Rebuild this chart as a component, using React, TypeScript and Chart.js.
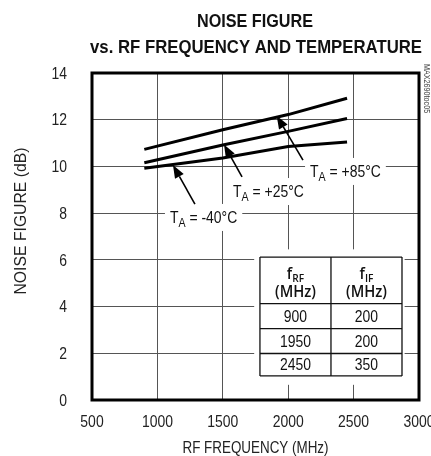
import React, { useEffect, useRef } from "react";
import { Chart, registerables } from "chart.js";

Chart.register(...registerables);

// ---- data ----
const frequencies = [900, 1500, 2000, 2450];
const nfPlus85 = [10.73, 11.57, 12.22, 12.92];
const nfPlus25 = [10.16, 10.92, 11.5, 12.05];
const nfMinus40 = [9.92, 10.36, 10.85, 11.05];

const xMin = 500;
const xMax = 3000;
const xStep = 500;
const yMin = 0;
const yMax = 14;
const yStep = 2;

const titleLines = ["NOISE FIGURE", "vs. RF FREQUENCY AND TEMPERATURE"];
const xTitle = "RF FREQUENCY (MHz)";
const yTitle = "NOISE FIGURE (dB)";
const watermark = "MAX2690toc05";

const tableHeadMain = ["f", "f"];
const tableHeadSub = ["RF", "IF"];
const tableHeadUnit = ["(MHz)", "(MHz)"];
const tableRF = ["900", "1950", "2450"];
const tableIF = ["200", "200", "350"];

const tempLabels = ["+85°C", "+25°C", "-40°C"];

// annotation anchors (data coordinates)
const labelAnchors = [
  { x: 2167, y: 9.55 },
  { x: 1578, y: 8.69 },
  { x: 1096, y: 7.58 },
];
const arrowTails = [
  { x: 2113, y: 10.27 },
  { x: 1647, y: 9.55 },
  { x: 1287, y: 8.39 },
];
const arrowHeads = [
  { x: 1912, y: 12.17 },
  { x: 1509, y: 10.94 },
  { x: 1119, y: 10.06 },
];
const tableCols = [1784, 2327, 2870];
const tableRows = [6.12, 4.13, 3.06, 1.99, 1.03];
const tableBg = { x0: 1740, x1: 2890, y0: 6.45, y1: 0.65 };

const BASE = '"Liberation Sans", Arial, sans-serif';
const HEAD = '"Open Sans", "Liberation Sans", sans-serif';
const NARROW_SX = 0.82;

function drawText(
  ctx: any,
  text: string,
  x: number,
  y: number,
  opts: { size: number; weight?: string; align?: string; sx?: number; family?: string; width?: number }
) {
  const family = opts.family || BASE;
  ctx.save();
  ctx.font = `${opts.weight || "normal"} ${opts.size}px ${family}`;
  let sx = opts.sx ?? NARROW_SX;
  if (opts.width) sx = opts.width / ctx.measureText(text).width;
  ctx.translate(x, y);
  ctx.scale(sx, 1);
  ctx.textAlign = opts.align || "left";
  ctx.fillText(text, 0, 0);
  ctx.restore();
}

function textW(ctx: any, text: string, size: number, weight = "normal", family = BASE, sx = NARROW_SX) {
  ctx.save();
  ctx.font = `${weight} ${size}px ${family}`;
  const w = ctx.measureText(text).width * sx;
  ctx.restore();
  return w;
}

function labelWidth(ctx: any, rest: string) {
  return textW(ctx, "T", 17) + textW(ctx, "A", 13) + textW(ctx, " = " + rest, 17);
}

function drawLabel(ctx: any, rest: string, px: number, py: number) {
  drawText(ctx, "T", px, py, { size: 17 });
  const wT = textW(ctx, "T", 17);
  drawText(ctx, "A", px + wT, py + 4, { size: 13 });
  const wA = textW(ctx, "A", 13);
  drawText(ctx, " = " + rest, px + wT + wA, py, { size: 17 });
}

const customPlugin = {
  id: "customDraw",
  beforeDatasetsDraw(chart: any) {
    const { ctx } = chart;
    const x = chart.scales.x;
    const y = chart.scales.y;
    ctx.save();
    // white boxes behind labels
    labelAnchors.forEach((a, i) => {
      const px = x.getPixelForValue(a.x);
      const py = y.getPixelForValue(a.y);
      const w = labelWidth(ctx, tempLabels[i]);
      ctx.fillStyle = "#fff";
      ctx.fillRect(px - 5, py - 19, w + 10, 27);
    });
    // table background
    const bx0 = x.getPixelForValue(tableBg.x0);
    const bx1 = x.getPixelForValue(tableBg.x1);
    const by0 = y.getPixelForValue(tableBg.y0);
    const by1 = y.getPixelForValue(tableBg.y1);
    ctx.fillStyle = "#fff";
    ctx.fillRect(bx0, by0, bx1 - bx0, by1 - by0);
    // table grid
    const cx = tableCols.map((v) => x.getPixelForValue(v));
    const ry = tableRows.map((v) => y.getPixelForValue(v));
    ctx.strokeStyle = "#111";
    ctx.lineWidth = 1.3;
    ctx.beginPath();
    cx.forEach((c) => {
      ctx.moveTo(c, ry[0]);
      ctx.lineTo(c, ry[ry.length - 1]);
    });
    ry.forEach((r) => {
      ctx.moveTo(cx[0], r);
      ctx.lineTo(cx[cx.length - 1], r);
    });
    ctx.stroke();
    // header
    ctx.fillStyle = "#111";
    ctx.textBaseline = "alphabetic";
    for (let c = 0; c < 2; c++) {
      const mid = (cx[c] + cx[c + 1]) / 2;
      const hsx = 0.92;
      const wm = textW(ctx, tableHeadMain[c], 16, "600", HEAD, hsx);
      const ws = textW(ctx, tableHeadSub[c], 11, "600", HEAD, hsx);
      const start = mid - (wm + ws) / 2;
      drawText(ctx, tableHeadMain[c], start, ry[0] + 22, { size: 16, weight: "600", family: HEAD, sx: hsx });
      drawText(ctx, tableHeadSub[c], start + wm, ry[0] + 25, { size: 11, weight: "600", family: HEAD, sx: hsx });
      drawText(ctx, tableHeadUnit[c], mid, ry[0] + 40, { size: 16, weight: "600", family: HEAD, sx: hsx, align: "center" });
    }
    ctx.textBaseline = "middle";
    for (let r = 0; r < tableRF.length; r++) {
      const cy = (ry[r + 1] + ry[r + 2]) / 2 + 1;
      drawText(ctx, tableRF[r], (cx[0] + cx[1]) / 2, cy, { size: 17, align: "center" });
      drawText(ctx, tableIF[r], (cx[1] + cx[2]) / 2, cy, { size: 17, align: "center" });
    }
    ctx.restore();
  },
  afterDatasetsDraw(chart: any) {
    const { ctx, chartArea } = chart;
    const x = chart.scales.x;
    const y = chart.scales.y;
    ctx.save();
    // arrows
    ctx.strokeStyle = "#000";
    ctx.fillStyle = "#000";
    arrowTails.forEach((t, i) => {
      const h = arrowHeads[i];
      const x0 = x.getPixelForValue(t.x);
      const y0 = y.getPixelForValue(t.y);
      const x1 = x.getPixelForValue(h.x);
      const y1 = y.getPixelForValue(h.y);
      const ang = Math.atan2(y1 - y0, x1 - x0);
      const len = 13;
      const hw = 5;
      const bxp = x1 - len * Math.cos(ang);
      const byp = y1 - len * Math.sin(ang);
      ctx.lineWidth = 1.6;
      ctx.beginPath();
      ctx.moveTo(x0, y0);
      ctx.lineTo(bxp, byp);
      ctx.stroke();
      ctx.beginPath();
      ctx.moveTo(x1, y1);
      ctx.lineTo(bxp + hw * Math.sin(ang), byp - hw * Math.cos(ang));
      ctx.lineTo(bxp - hw * Math.sin(ang), byp + hw * Math.cos(ang));
      ctx.closePath();
      ctx.fill();
    });
    // labels
    ctx.fillStyle = "#111";
    ctx.textBaseline = "alphabetic";
    labelAnchors.forEach((a, i) => {
      const px = x.getPixelForValue(a.x);
      const py = y.getPixelForValue(a.y);
      drawLabel(ctx, tempLabels[i], px, py);
    });
    // border
    ctx.strokeStyle = "#000";
    ctx.lineWidth = 3;
    ctx.strokeRect(
      chartArea.left,
      chartArea.top,
      chartArea.right - chartArea.left,
      chartArea.bottom - chartArea.top
    );
    ctx.restore();
  },
  afterDraw(chart: any) {
    const { ctx, chartArea } = chart;
    const x = chart.scales.x;
    const y = chart.scales.y;
    ctx.save();
    ctx.fillStyle = "#222";
    // tick labels
    ctx.textBaseline = "middle";
    x.ticks.forEach((t: any) => {
      drawText(ctx, String(t.value), x.getPixelForValue(t.value), 422, { size: 17, align: "center" });
    });
    y.ticks.forEach((t: any) => {
      drawText(ctx, String(t.value), 67, y.getPixelForValue(t.value) + 1, { size: 17, align: "right" });
    });
    // titles
    ctx.fillStyle = "#111";
    ctx.textBaseline = "alphabetic";
    drawText(ctx, titleLines[0], 255, 27, { size: 19, weight: "bold", align: "center", width: 116 });
    drawText(ctx, titleLines[1], 256, 53, { size: 19, weight: "bold", align: "center", width: 332 });
    ctx.fillStyle = "#222";
    ctx.textBaseline = "middle";
    drawText(ctx, xTitle, (chartArea.left + chartArea.right) / 2, 448, { size: 17, align: "center", width: 146 });
    ctx.save();
    ctx.translate(21, 221);
    ctx.rotate(-Math.PI / 2);
    drawText(ctx, yTitle, 0, 0, { size: 17, align: "center", width: 147 });
    ctx.restore();
    ctx.save();
    ctx.translate(424, 64);
    ctx.rotate(Math.PI / 2);
    ctx.fillStyle = "#444";
    ctx.textBaseline = "alphabetic";
    drawText(ctx, watermark, 0, 0, { size: 9, sx: 0.8 });
    ctx.restore();
    ctx.restore();
  },
};

export default function App() {
  const canvasRef = useRef<HTMLCanvasElement | null>(null);

  useEffect(() => {
    if (!canvasRef.current) return;
    const mk = (data: number[]) =>
      frequencies.map((f, i) => ({ x: f, y: data[i] }));
    const lineStyle = {
      borderColor: "#000",
      borderWidth: 3,
      pointRadius: 0,
      tension: 0,
      fill: false,
    };
    const chart = new Chart(canvasRef.current, {
      type: "line",
      data: {
        datasets: [
          { label: "TA = +85°C", data: mk(nfPlus85), ...lineStyle },
          { label: "TA = +25°C", data: mk(nfPlus25), ...lineStyle },
          { label: "TA = -40°C", data: mk(nfMinus40), ...lineStyle },
        ],
      },
      options: {
        animation: false,
        responsive: false,
        maintainAspectRatio: false,
        layout: { padding: { left: 0, right: 12, top: 73, bottom: 0 } },
        plugins: {
          legend: { display: false },
          tooltip: { enabled: false },
          title: { display: false },
        },
        scales: {
          x: {
            type: "linear",
            min: xMin,
            max: xMax,
            ticks: { stepSize: xStep, display: false },
            grid: { color: "#555", lineWidth: 1, drawTicks: false },
            border: { display: false },
            afterFit: (s: any) => {
              s.height = 56;
            },
          },
          y: {
            type: "linear",
            min: yMin,
            max: yMax,
            ticks: { stepSize: yStep, display: false },
            grid: { color: "#555", lineWidth: 1, drawTicks: false },
            border: { display: false },
            afterFit: (s: any) => {
              s.width = 92;
            },
          },
        },
      },
      plugins: [customPlugin],
    } as any);
    return () => chart.destroy();
  }, []);

  return (
    <div style={{ position: "absolute", left: 0, top: 0, width: 431, height: 456, background: "#fff" }}>
      <canvas ref={canvasRef} width={431} height={456} />
    </div>
  );
}
